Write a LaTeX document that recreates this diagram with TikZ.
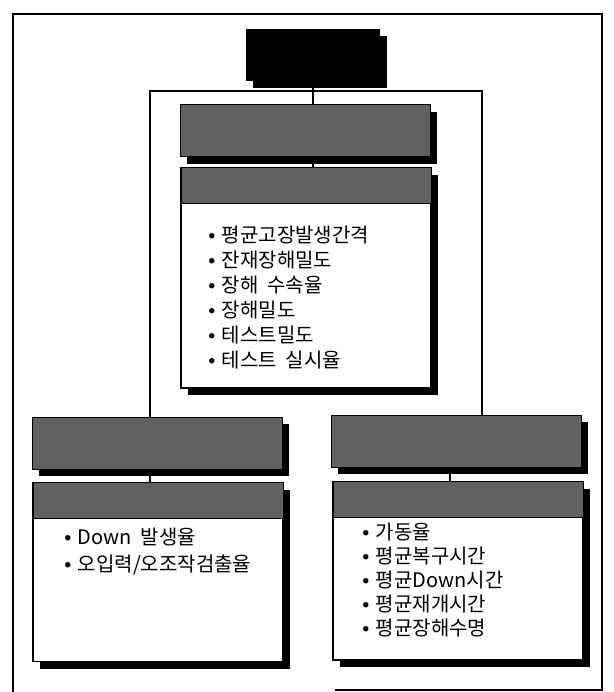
\documentclass[tikz,border=0pt]{standalone}
\usepackage{fontspec}
\setmainfont{Noto Sans CJK KR}
\usetikzlibrary{shadows}

\newcommand{\itm}{\makebox[13pt][l]{\raisebox{4pt}{\fontsize{6}{6}\selectfont●}}}

\begin{document}
\begin{tikzpicture}[x=1pt, y=-1pt, line width=1.6pt]
  \tikzstyle{shd} = [drop shadow={shadow xshift=7pt, shadow yshift=-7pt, opacity=1, fill=black}]
  \tikzstyle{ttl} = [fill=black, minimum width=134pt, minimum height=52pt, shd]
  \tikzstyle{hdr} = [fill=black!62, draw=black, line width=1pt, minimum width=250pt, minimum height=52pt, shd]
  \tikzstyle{box} = [fill=white, draw=black, line width=1.2pt, minimum width=250pt, shd]
  \tikzstyle{strip} = [fill=black!62, draw=black, line width=1pt, minimum width=250pt, minimum height=36pt, anchor=north]
  \tikzstyle{lst} = [anchor=north west, align=left, inner sep=0pt]

  \useasboundingbox (0,0) rectangle (613,692);

  % outer frame
  \draw (335,690) -- (602,690) -- (602,14) -- (13,14) -- (13,692);

  \node[ttl] (top) at (313,55) {};

  \node[hdr] (h1) at (305,131) {};
  \node[box, minimum height=220pt] (c1) at (306,278) {};
  \node[strip] (s1) at (c1.north) {};

  \node[hdr] (h2) at (157,443) {};
  \node[box, minimum height=179pt] (c2) at (158,572) {};
  \node[strip] (s2) at (c2.north) {};

  \node[hdr] (h3) at (456,441) {};
  \node[box, minimum height=178pt] (c3) at (458,571) {};
  \node[strip] (s3) at (c3.north) {};

  % branch lines
  \coordinate (jl) at (150,91);
  \coordinate (jr) at (482,91);
  \draw (h2.north -| jl) -- (jl) -- (jr) -- (h3.north -| jr);
  \draw (top.south) -- (top.south |- h1.north);
  \draw (h1.south -| top.south) -- (s1.north -| top.south);
  \draw (h2.south -| jl) -- (s2.north -| jl);
  \draw ([xshift=-6pt]h3.south) -- ([xshift=-6pt]h3.south |- s3.north);

  % lists
  \node[lst, font=\fontsize{20}{25}\selectfont] (t1) at (208,225)
    {\itm 평균고장발생간격\\ \itm 잔재장해밀도\\ \itm 장해\ \ 수속율\\
     \itm 장해밀도\\ \itm 테스트밀도\\ \itm 테스트\ \ 실시율};
  \node[lst, font=\fontsize{20}{27}\selectfont] (t2) at (64,527)
    {\itm Down\ \ 발생율\\ \itm 오입력/오조작검출율};
  \node[lst, font=\fontsize{20}{24}\selectfont] (t3) at (362,522)
    {\itm 가동율\\ \itm 평균복구시간\\ \itm 평균Down시간\\
     \itm 평균재개시간\\ \itm 평균장해수명};
\end{tikzpicture}
\end{document}
